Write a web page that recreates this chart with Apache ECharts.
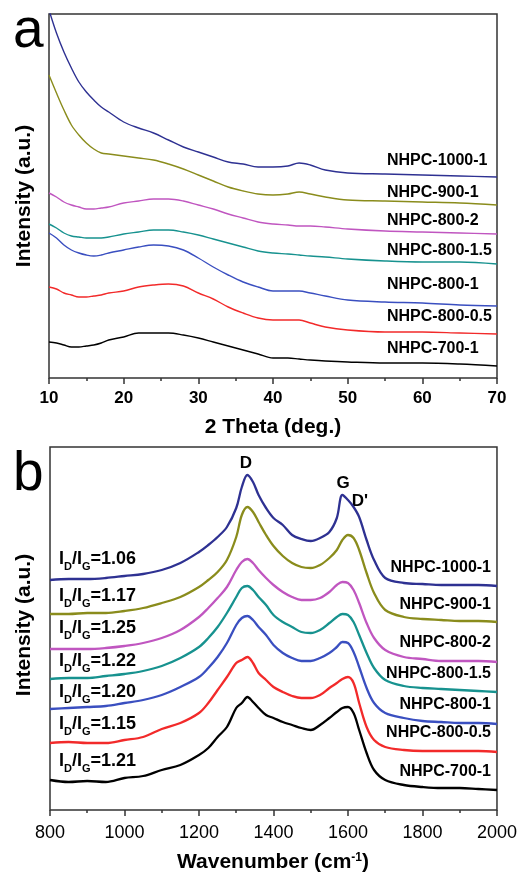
<!DOCTYPE html>
<html lang="en">
<head>
  <meta charset="UTF-8">
  <title>NHPC XRD and Raman</title>
  <style>
    html, body { margin: 0; padding: 0; background: #fff; }
  </style>
</head>
<body>
  <div id="main" style="width: 520px; height: 872px"></div>

  <script src="https://cdn.jsdelivr.net/npm/echarts@6/dist/echarts.min.js"></script>
  <script>
    // ---- data ----
    var sampleNames = ['NHPC-1000-1', 'NHPC-900-1', 'NHPC-800-2', 'NHPC-800-1.5', 'NHPC-800-1', 'NHPC-800-0.5', 'NHPC-700-1'];
    var lineColors = ['#2e3192', '#8a8c1c', '#c056c0', '#17928f', '#3a4fc0', '#f22a2a', '#000000'];

    // (a) XRD, 2 theta in degrees, intensity offset per sample (a.u.)
    var thetaX = [10, 11, 12, 13, 14, 15, 16, 17, 18, 20, 22, 24, 26, 28, 30, 32, 34, 36, 38, 40, 42, 43.5, 45, 47, 50, 55, 60, 65, 70];
    var xrd1000 = [368, 345, 326, 310, 296, 286, 278, 271, 266, 256, 250, 245, 238, 231, 226, 221, 216, 214, 211, 211, 212, 215, 213, 208, 205, 204, 203, 202, 201];
    var xrd900 = [303, 285, 268, 253, 243, 235, 229, 225, 224, 222, 220, 218, 214, 209, 203, 197, 191, 187, 184, 183, 184, 186, 184, 181, 178, 177, 176, 175, 173];
    var xrd800_2 = [185, 181, 176, 173, 171, 169, 169, 170, 171, 175, 177, 179, 179, 177, 173, 169, 164, 160, 156, 154, 153, 152, 152, 151, 149, 147, 146, 145, 144];
    var xrd800_15 = [154, 150, 145, 142, 141, 140, 140, 140, 141, 144, 146, 148, 148, 146, 143, 139, 135, 131, 127, 125, 124, 123, 122, 121, 119, 117, 116, 116, 114];
    var xrd800_1 = [145, 140, 133, 128, 125, 123, 122, 123, 125, 128, 131, 133, 132, 128, 120, 111, 103, 96, 91, 87, 87, 87, 85, 82, 78, 76, 75, 73, 72];
    var xrd800_05 = [91, 89, 85, 83, 81, 81, 82, 83, 85, 87, 91, 93, 94, 92, 85, 79, 71, 65, 60, 58, 58, 58, 55, 51, 48, 46, 46, 45, 44];
    var xrd700 = [36, 35, 33, 31, 31, 32, 33, 35, 38, 41, 45, 45, 45, 43, 40, 36, 32, 28, 24, 20, 20, 19, 18, 17, 16, 15, 15, 14, 12];

    // (b) Raman, wavenumber in cm-1
    var ramanX = [800, 850, 900, 950, 1000, 1050, 1100, 1150, 1200, 1225, 1250, 1275, 1300, 1315, 1330, 1345, 1360, 1380, 1400,
      1425, 1450, 1475, 1500, 1525, 1550, 1570, 1585, 1600, 1615, 1630, 1650, 1670, 1700, 1750, 1800, 1850, 1900, 1950, 2000];
    var raman1000 = [230, 231, 231, 232, 234, 236, 240, 247, 258, 265, 273, 283, 302, 323, 335, 328, 315, 302, 292,
      285, 275, 271, 269, 272, 278, 292, 315, 310, 303, 293, 270, 250, 232, 227, 226, 225, 225, 225, 224];
    var raman900 = [196, 196, 197, 197, 199, 202, 207, 213, 223, 230, 238, 250, 273, 295, 303, 298, 288, 275, 264,
      254, 247, 243, 242, 245, 252, 260, 270, 275, 272, 260, 237, 217, 200, 193, 191, 190, 189, 189, 188];
    var raman800_2 = [161, 161, 161, 162, 164, 167, 172, 180, 193, 202, 212, 223, 240, 248, 251, 247, 240, 232, 225,
      218, 213, 210, 210, 212, 218, 225, 228, 227, 220, 207, 187, 172, 160, 153, 151, 149, 149, 149, 148];
    var raman800_15 = [131, 132, 132, 134, 136, 139, 144, 152, 163, 172, 183, 197, 213, 222, 224, 220, 213, 205, 195,
      188, 183, 178, 177, 180, 187, 193, 196, 195, 188, 175, 157, 142, 130, 124, 122, 121, 120, 119, 118];
    var raman800_1 = [101, 102, 103, 104, 107, 110, 115, 123, 133, 142, 153, 167, 185, 192, 194, 190, 183, 175, 165,
      157, 152, 149, 149, 152, 157, 163, 168, 167, 158, 143, 122, 107, 97, 92, 89, 88, 87, 87, 86];
    var raman800_05 = [67, 68, 67, 67, 70, 73, 81, 87, 97, 107, 120, 133, 147, 150, 153, 147, 137, 130, 123,
      118, 114, 112, 112, 115, 122, 127, 131, 133, 127, 107, 83, 70, 63, 60, 59, 59, 59, 59, 58];
    var raman700 = [30, 28, 29, 28, 32, 34, 40, 45, 55, 62, 73, 83, 102, 107, 113, 108, 102, 95, 92,
      88, 85, 82, 80, 85, 92, 98, 102, 103, 97, 80, 57, 40, 30, 25, 23, 22, 22, 21, 20];

    var idigRatios = ['1.06', '1.17', '1.25', '1.22', '1.20', '1.15', '1.21'];
    var thetaTicks = { min: 10, max: 70, step: 10 };
    var waveTicks = { min: 800, max: 2000, step: 200 };

    var xrdSets = [xrd1000, xrd900, xrd800_2, xrd800_15, xrd800_1, xrd800_05, xrd700];
    var ramanSets = [raman1000, raman900, raman800_2, raman800_15, raman800_1, raman800_05, raman700];

    // ---- layout ----
    var FONT = '"Liberation Sans", Arial, Helvetica, sans-serif';
    var xrdLabelY = [161, 193, 221, 251, 285, 317, 349];
    var ramanLabelY = [568, 605, 643, 674, 705, 733, 772];
    var ratioLabelY = [560, 597, 629, 662, 693, 725, 762];

    function pairs(xs, ys) {
      return xs.map(function (x, i) { return [x, ys[i]]; });
    }

    var series = [];
    xrdSets.forEach(function (ys, i) {
      series.push({
        name: sampleNames[i] + ' XRD', type: 'line', xAxisIndex: 0, yAxisIndex: 0,
        data: pairs(thetaX, ys), showSymbol: false, smooth: 0.35,
        lineStyle: { color: lineColors[i], width: 1.4 }, itemStyle: { color: lineColors[i] }
      });
    });
    ramanSets.forEach(function (ys, i) {
      series.push({
        name: sampleNames[i] + ' Raman', type: 'line', xAxisIndex: 1, yAxisIndex: 1,
        data: pairs(ramanX, ys), showSymbol: false, smooth: 0.35,
        lineStyle: { color: lineColors[i], width: 2.3 }, itemStyle: { color: lineColors[i] }
      });
    });

    var graphics = [];
    function txt(x, y, text, font, align, extra) {
      var g = {
        type: 'text', x: x, y: y,
        style: { text: text, font: font, fill: '#000', align: align || 'left', verticalAlign: 'middle' }
      };
      for (var k in extra) g[k] = extra[k];
      return g;
    }

    // panel letters
    graphics.push(txt(13, 32, 'a', '55px ' + FONT));
    graphics.push(txt(13, 475, 'b', '55px ' + FONT));
    // axis titles
    graphics.push(txt(24, 196, 'Intensity (a.u.)', 'bold 21px ' + FONT, 'center', { rotation: Math.PI / 2 }));
    graphics.push(txt(24, 625, 'Intensity (a.u.)', 'bold 21px ' + FONT, 'center', { rotation: Math.PI / 2 }));
    graphics.push(txt(273, 427, '2 Theta (deg.)', 'bold 21px ' + FONT, 'center'));
    graphics.push({
      type: 'text', x: 273, y: 864,
      style: {
        text: '{a|Wavenumber (cm}{s|-1}{a|)}', align: 'center', verticalAlign: 'middle',
        rich: {
          a: { fontFamily: FONT, fontWeight: 'bold', fontSize: 21, lineHeight: 24, verticalAlign: 'top', fill: '#000' },
          s: { fontFamily: FONT, fontWeight: 'bold', fontSize: 12, lineHeight: 12, verticalAlign: 'top', fill: '#000' }
        }
      }
    });
    // peak names
    graphics.push(txt(246, 463, 'D', 'bold 17px ' + FONT, 'center'));
    graphics.push(txt(343, 483, 'G', 'bold 17px ' + FONT, 'center'));
    graphics.push(txt(360, 501, "D'", 'bold 17px ' + FONT, 'center'));

    sampleNames.forEach(function (name, i) {
      graphics.push(txt(387, xrdLabelY[i], name, 'bold 16px ' + FONT, 'left'));
      graphics.push(txt(491, ramanLabelY[i], name, 'bold 16px ' + FONT, 'right'));
      graphics.push({
        type: 'text', x: 59, y: ratioLabelY[i],
        style: {
          text: '{m|I}{s|D}{m|/I}{s|G}{m|=' + idigRatios[i] + '}', align: 'left', verticalAlign: 'middle',
          rich: {
            m: { fontFamily: FONT, fontWeight: 'bold', fontSize: 18, lineHeight: 20, verticalAlign: 'top', fill: '#000' },
            s: { fontFamily: FONT, fontWeight: 'bold', fontSize: 11, lineHeight: 12, padding: [11, 0, 0, 0], verticalAlign: 'top', fill: '#000' }
          }
        }
      });
    });

    function xAxisCfg(idx, ticks, bold, size, margin) {
      return {
        type: 'value', gridIndex: idx, min: ticks.min, max: ticks.max, interval: ticks.step,
        axisLine: { show: false },
        axisTick: { show: true, inside: false, length: 6, lineStyle: { color: '#333', width: 1.5 } },
        minorTick: { show: true, splitNumber: 2, length: 3, lineStyle: { color: '#333', width: 1.5 } },
        axisLabel: {
          color: '#000', fontFamily: FONT, fontSize: size, fontWeight: bold ? 'bold' : 'normal', margin: margin,
          formatter: function (v) { return String(v); }
        },
        splitLine: { show: false }
      };
    }
    function yAxisCfg(idx, max) {
      return {
        type: 'value', gridIndex: idx, min: 0, max: max,
        axisLine: { show: false }, axisTick: { show: false }, axisLabel: { show: false }, splitLine: { show: false }
      };
    }

    var myChart = echarts.init(document.getElementById('main'), null, { renderer: 'canvas' });
    var option = {
      animation: false,
      backgroundColor: '#fff',
      grid: [
        { left: 49, top: 14, width: 448, height: 364, show: true, borderColor: '#333', borderWidth: 1.5, backgroundColor: 'transparent' },
        { left: 50, top: 447, width: 448, height: 363, show: true, borderColor: '#333', borderWidth: 1.5, backgroundColor: 'transparent' }
      ],
      xAxis: [xAxisCfg(0, thetaTicks, true, 17, 12), xAxisCfg(1, waveTicks, false, 18, 14)],
      yAxis: [yAxisCfg(0, 364), yAxisCfg(1, 363)],
      series: series,
      graphic: graphics
    };
    myChart.setOption(option);
  </script>
</body>
</html>
